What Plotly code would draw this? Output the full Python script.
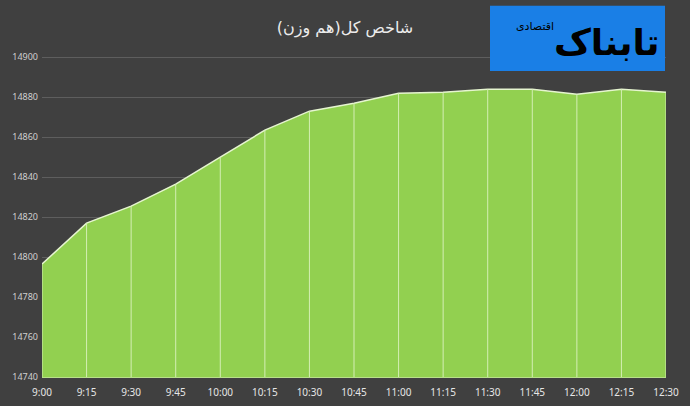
import plotly.graph_objects as go

times = ['9:00', '9:15', '9:30', '9:45', '10:00', '10:15', '10:30', '10:45',
         '11:00', '11:15', '11:30', '11:45', '12:00', '12:15', '12:30']
index_vals = [14796.5, 14817, 14825.5, 14836.5, 14850, 14863.5, 14873, 14877,
              14882, 14882.5, 14884, 14884, 14881.5, 14884, 14882.5]
y_ticks = [14740, 14760, 14780, 14800, 14820, 14840, 14860, 14880, 14900]

title = 'شاخص کل(هم وزن)'
logo_main = 'تابناک'
logo_sub = 'اقتصادی'

y_min = y_ticks[0]

fig = go.Figure()

# green area
fig.add_trace(go.Scatter(x=times, y=index_vals, mode='lines', fill='tozeroy',
                         fillcolor='#92d050',
                         line=dict(color='#e6f5d0', width=1.5),
                         hoverinfo='skip'))

# drop lines from each point down to the axis
drop_x = []
drop_y = []
for t, v in zip(times, index_vals):
    drop_x += [t, t, None]
    drop_y += [y_min, v, None]
fig.add_trace(go.Scatter(x=drop_x, y=drop_y, mode='lines',
                         line=dict(color='#d4eeb4', width=1),
                         hoverinfo='skip'))

fig.update_layout(
    width=690, height=406,
    paper_bgcolor='#404040', plot_bgcolor='#404040',
    margin=dict(l=42, r=24, t=56, b=29),
    showlegend=False,
    font=dict(family='Noto Sans', color='#d9d9d9', size=10),
    title=dict(text=title, x=0.5, xanchor='center', y=1 - 27 / 406,
               yanchor='middle', yref='container',
               font=dict(family='DejaVu Sans', size=16, color='#ececec')),
    xaxis=dict(type='category', range=[0, len(times) - 1], showgrid=False,
               ticks='', tickfont=dict(size=10, color='#e6e6e6'),
               ticklabelstandoff=6,
               showline=True, linecolor='#b8e08a', linewidth=1,
               zeroline=False, automargin=False),
    yaxis=dict(range=[y_ticks[0], y_ticks[-1] + 0.6], tickvals=y_ticks,
               tickformat='d',
               showgrid=True, gridcolor='#5e5e5e', gridwidth=1,
               zeroline=False, ticks='', automargin=False,
               tickfont=dict(size=9, color='#cfcfcf'), ticklabelstandoff=3),
)

# logo block
fig.add_shape(type='rect', xref='paper', yref='paper',
              x0=(490 - 42) / 624, x1=(665 - 42) / 624,
              y0=(377 - 72) / 320, y1=(377 - 7) / 320,
              fillcolor='#1a7fe6', line=dict(width=0), layer='above')
fig.add_annotation(xref='paper', yref='paper', x=(662 - 42) / 624,
                   y=(377 - 44) / 320, xanchor='right', yanchor='middle',
                   text='<b>' + logo_main + '</b>', showarrow=False,
                   font=dict(family='DejaVu Sans', size=36, color='#000000'))
fig.add_annotation(xref='paper', yref='paper', x=(556 - 42) / 624,
                   y=(377 - 28) / 320, xanchor='right', yanchor='middle',
                   text=logo_sub, showarrow=False,
                   font=dict(family='DejaVu Sans', size=11, color='#000000'))

fig.write_html('out.html', config={'displayModeBar': False},
               post_script="document.body.style.margin='0';")
